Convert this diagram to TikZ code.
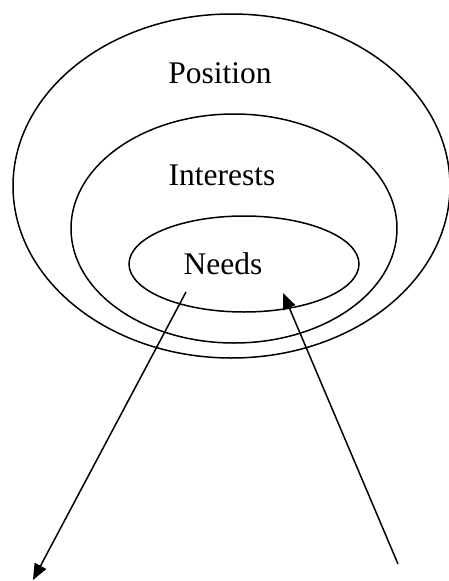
\documentclass[tikz,border=0pt]{standalone}
\usepackage{fontspec}
\setmainfont{Liberation Serif}
\usetikzlibrary{shapes.geometric,arrows.meta}
\begin{document}
\begin{tikzpicture}[x=1pt,y=-1pt,
  ring/.style={draw, ellipse, line width=1.5pt, inner sep=0pt},
  lbl/.style={anchor=base, inner sep=0pt, font=\fontsize{31.5}{36}\selectfont},
  conn/.style={line width=1.5pt, -{Triangle[length=16pt,width=13pt]}}]
\useasboundingbox (0,0) rectangle (449,581);
\node[ring, minimum width=437pt, minimum height=344pt] (pos) at (231.5,186) {};
\node[ring, minimum width=326pt, minimum height=229pt] (int) at (234,228.5) {};
\node[ring, minimum width=230pt, minimum height=96pt] (need) at (244,264) {};
\node[lbl] (tpos) at (220,83) {Position};
\node[lbl] (tint) at (222,185) {Interests};
\node[lbl] (tneed) at (223,274) {Needs};
\coordinate (a1) at (186,292);
\coordinate (a2) at (33,580);
\coordinate (b1) at (398,564);
\coordinate (b2) at (283,293);
\draw[conn] (a1) -- (a2);
\draw[conn] (b1) -- (b2);
\end{tikzpicture}
\end{document}
